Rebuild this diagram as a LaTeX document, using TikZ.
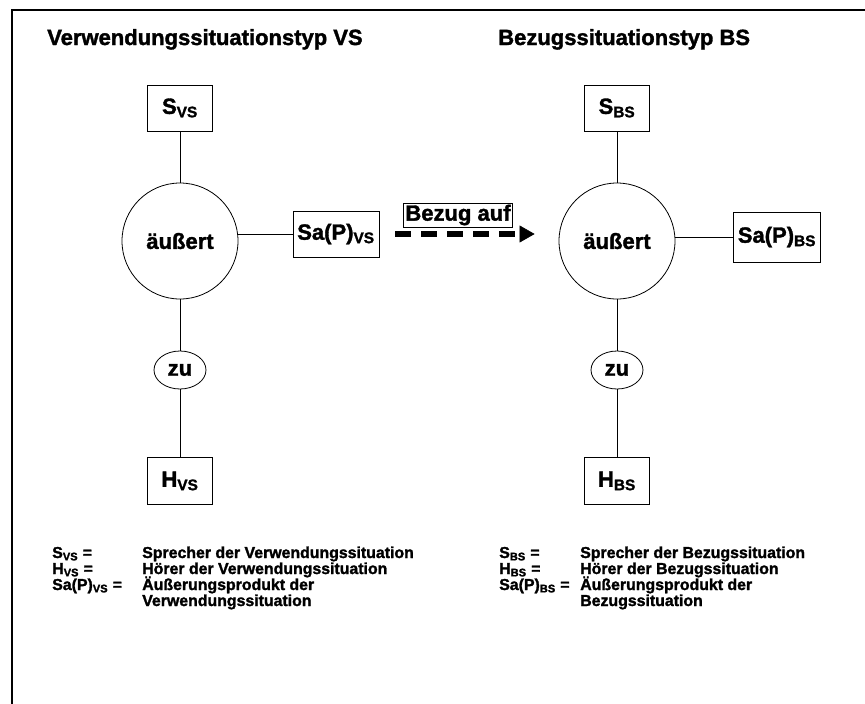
\documentclass[tikz,border=0pt]{standalone}
\usepackage{fontspec}
\setmainfont{Liberation Sans}[BoldFeatures={FakeBold=1.6}]
\usetikzlibrary{shapes.geometric,arrows.meta}

\begin{document}
\begin{tikzpicture}[x=0.75pt,y=-0.75pt,
      every node/.style = {font=\bfseries\fontsize{16.5}{18}\selectfont, inner sep=0pt},
      box/.style = {draw, line width=0.6pt, minimum width=48.75pt, minimum height=34.5pt},
      kreis/.style = {draw, circle, line width=0.6pt, minimum size=87pt},
      zubox/.style = {draw, ellipse, line width=0.6pt, minimum width=39pt, minimum height=28.5pt},
      legende/.style = {anchor=base west, font=\bfseries\fontsize{11.9}{12}\selectfont}]
  \useasboundingbox (0,0) rectangle (865,704);
  \draw[line width=1.7pt] (12,704) -- (12,10) -- (865,10);

  % Verwendungssituation
  \node[anchor=base west] (titelVS) at (47,45) {Verwendungssituationstyp VS};
  \node[box] (Svs) at (180,108) {S\textsubscript{VS}};
  \node[kreis] (kreisVS) at (180,241) {äußert};
  \node[box, minimum width=64.5pt] (SaPvs) at (336,234) {Sa(P)\textsubscript{VS}};
  \node[zubox] (zuVS) at (180,370) {zu};
  \node[box, minimum height=35.25pt] (Hvs) at (180,481) {H\textsubscript{VS}};
  \draw[line width=0.6pt] (Svs) -- (kreisVS) -- (zuVS) -- (Hvs);
  \draw[line width=0.6pt] (SaPvs.west) -- (SaPvs.west -| kreisVS.east);

  % Bezugssituation
  \node[anchor=base west] (titelBS) at (498,45) {Bezugssituationstyp BS};
  \node[box] (Sbs) at (617,108) {S\textsubscript{BS}};
  \node[kreis] (kreisBS) at (617,241) {äußert};
  \node[box, minimum width=65.25pt, minimum height=37.5pt] (SaPbs) at (777,237) {Sa(P)\textsubscript{BS}};
  \node[zubox] (zuBS) at (617,370) {zu};
  \node[box, minimum height=35.25pt] (Hbs) at (617,481) {H\textsubscript{BS}};
  \draw[line width=0.6pt] (Sbs) -- (kreisBS) -- (zuBS) -- (Hbs);
  \draw[line width=0.6pt] (SaPbs.west) -- (SaPbs.west -| kreisBS.east);

  % Bezug
  \node[draw, line width=0.6pt, inner xsep=1.5pt, inner ysep=1.2pt] (bezug) at (458,215) {Bezug auf};
  \draw[line width=4pt, dash pattern=on 11.5pt off 8pt,
        -{Triangle[length=11.25pt,width=12.75pt,line width=0.4pt]}, shorten <=12pt, shorten >=18pt]
    (SaPvs.east) -- (SaPvs.east -| kreisBS.west);

  % Legende
  \node[legende] (kSvs) at (52,558) {S\textsubscript{VS} =};
  \node[legende] (dSvs) at (142,558) {Sprecher der Verwendungssituation};
  \node[legende] (kHvs) at (52,574) {H\textsubscript{VS} =};
  \node[legende] (dHvs) at (142,574) {Hörer der Verwendungssituation};
  \node[legende] (kSaPvs) at (52,590) {Sa(P)\textsubscript{VS} =};
  \node[legende] (dSaPvs) at (142,590) {Äußerungsprodukt der};
  \node[legende] (dSaPvs2) at (142,606) {Verwendungssituation};

  \node[legende] (kSbs) at (499,558) {S\textsubscript{BS} =};
  \node[legende] (dSbs) at (580,558) {Sprecher der Bezugssituation};
  \node[legende] (kHbs) at (499,574) {H\textsubscript{BS} =};
  \node[legende] (dHbs) at (580,574) {Hörer der Bezugssituation};
  \node[legende] (kSaPbs) at (499,590) {Sa(P)\textsubscript{BS} =};
  \node[legende] (dSaPbs) at (580,590) {Äußerungsprodukt der};
  \node[legende] (dSaPbs2) at (580,606) {Bezugssituation};
\end{tikzpicture}
\end{document}
